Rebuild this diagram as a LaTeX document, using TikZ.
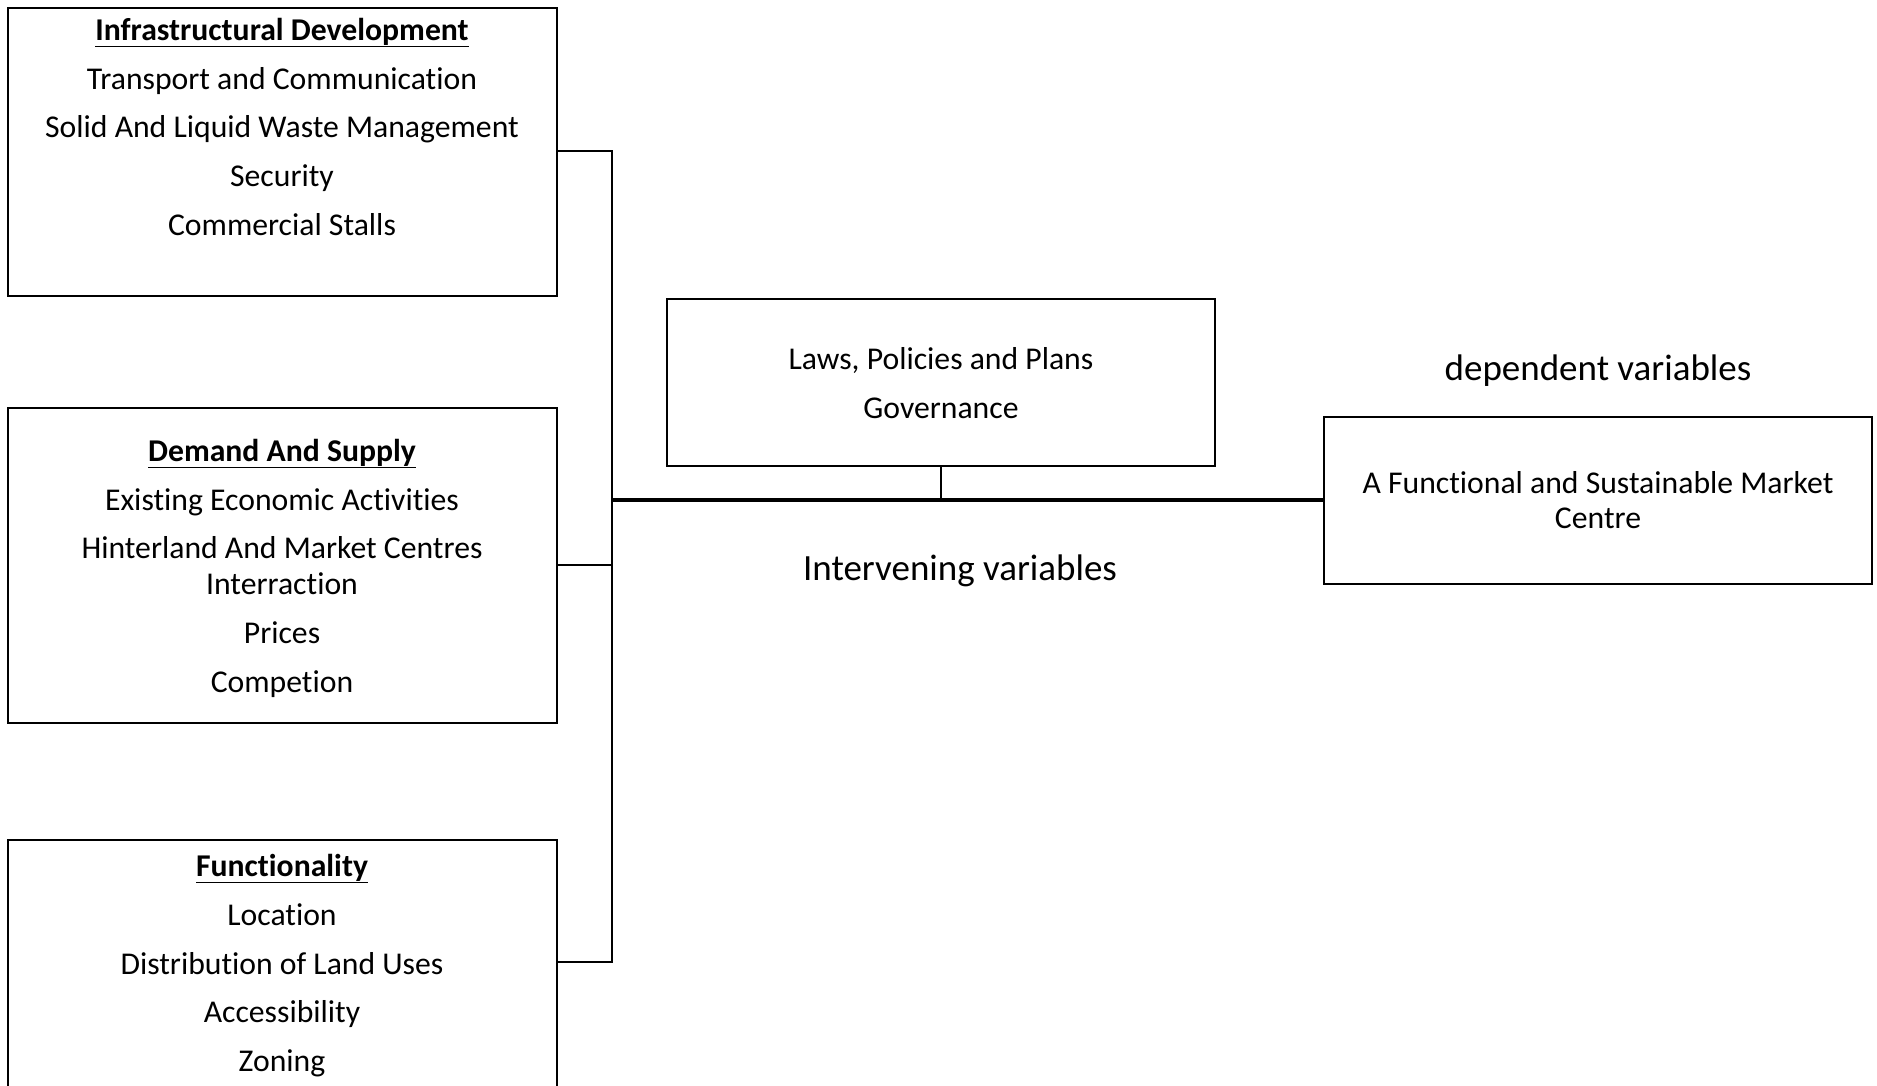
\documentclass[tikz,border=0pt]{standalone}
\usepackage{fontspec}
\setmainfont[Ligatures={NoCommon,NoRare,NoDiscretionary}]{Carlito}
\begin{document}
\begin{tikzpicture}[x=1pt,y=-1pt,
  boxr/.style={draw=black, line width=2.8pt, fill=none},
  ln/.style={font=\fontsize{31.7}{36}\selectfont, inner sep=0pt, text height=22pt, text depth=0pt, anchor=center},
  big/.style={font=\fontsize{37}{42}\selectfont, inner sep=0pt, text height=26.6pt, text depth=0pt, anchor=center},
  wire/.style={draw=black, line width=2.8pt},
  mainwire/.style={draw=black, line width=3.4pt}]
\clip (0,0) rectangle (1877,1085);
\fill[white] (0,0) rectangle (1877,1085);
% boxes
\node[boxr, minimum width=549pt, minimum height=288pt, inner sep=0pt] (b1) at (282.5,152) {};
\node[boxr, minimum width=549pt, minimum height=315pt, inner sep=0pt] (b2) at (282.5,565.5) {};
\node[boxr, minimum width=549pt, minimum height=300pt, inner sep=0pt] (b3) at (282.5,990) {};
\node[boxr, minimum width=548pt, minimum height=167pt, inner sep=0pt] (bc) at (941,382.5) {};
\node[boxr, minimum width=548pt, minimum height=167pt, inner sep=0pt] (br) at (1598,500.5) {};
% box 1 text
\node[ln] (t11) at (282,29) {\textbf{\underline{Infrastructural Development}}};
\node[ln] (t12) at (282,78) {Transport and Communication};
\node[ln] (t13) at (282,126) {Solid And Liquid Waste Management};
\node[ln] (t14) at (282,175) {Security};
\node[ln] (t15) at (282,224) {Commercial Stalls};
% box 2 text
\node[ln] (t21) at (282,450) {\textbf{\underline{Demand And Supply}}};
\node[ln] (t22) at (282,499) {Existing Economic Activities};
\node[ln] (t23) at (282,547) {Hinterland And Market Centres};
\node[ln] (t24) at (282,583) {Interraction};
\node[ln] (t25) at (282,632) {Prices};
\node[ln] (t26) at (282,681) {Competion};
% box 3 text
\node[ln] (t31) at (282,865) {\textbf{\underline{Functionality}}};
\node[ln] (t32) at (282,914) {Location};
\node[ln] (t33) at (282,963) {Distribution of Land Uses};
\node[ln] (t34) at (282,1011) {Accessibility};
\node[ln] (t35) at (282,1060) {Zoning};
% centre box text
\node[ln] (tc1) at (941,358) {Laws, Policies and Plans};
\node[ln] (tc2) at (941,407) {Governance};
% right box text
\node[ln] (tr1) at (1598,482) {A Functional and Sustainable Market};
\node[ln] (tr2) at (1598,517) {Centre};
% labels
\node[big] (dep) at (1598,367) {dependent variables};
\node[big] (int) at (960,567) {Intervening variables};
% connectors
\coordinate (k1) at (612,151);
\coordinate (k2) at (612,565);
\coordinate (k3) at (612,962);
\coordinate (km) at (612,500);
\coordinate (ks) at (941,500);
\draw[wire] (b1.east |- k1) -- (k1) -- (k3) -- (b3.east |- k3);
\draw[wire] (b2.east |- k2) -- (k2);
\draw[mainwire] (km) -- (br.west |- km);
\draw[wire] (bc.south) -- (ks);
\end{tikzpicture}
\end{document}
